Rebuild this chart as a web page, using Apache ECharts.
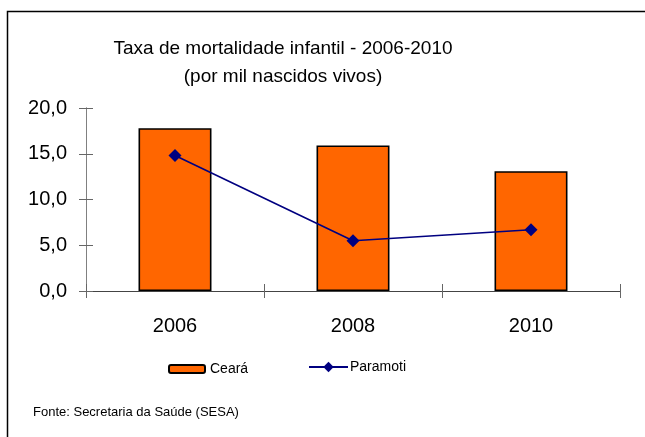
<!DOCTYPE html>
<html>
<head>
<meta charset="utf-8">
<script src="https://cdn.jsdelivr.net/npm/echarts@6/dist/echarts.min.js"></script>
<style>
html,body{margin:0;padding:0;background:#fff;}
#chart{width:645px;height:437px;}
</style>
</head>
<body>
<div id="chart"></div>
<script>
var categories = ['2006', '2008', '2010'];
var cearaValues = [17.8, 15.9, 13.1];
var paramotiValues = [14.8, 5.5, 6.7];
var yTickValues = [0, 5, 10, 15, 20];
var yTickLabels = ['0,0', '5,0', '10,0', '15,0', '20,0'];
var titleLines = ['Taxa de mortalidade infantil - 2006-2010', '(por mil nascidos vivos)'];
var sourceText = 'Fonte: Secretaria da Saúde (SESA)';

var FONT = "'Liberation Sans', Arial, sans-serif";
var chart = echarts.init(document.getElementById('chart'), null, {renderer: 'canvas'});

function yLabel(v) {
  var i = yTickValues.indexOf(v);
  return i >= 0 ? yTickLabels[i] : '';
}

var gridRect = {left: 86, right: 25, top: 108, bottom: 146, containLabel: false};

var option = {
  backgroundColor: '#ffffff',
  animation: false,
  title: {
    text: titleLines.join('\n'),
    left: 283,
    top: 35,
    textAlign: 'center',
    padding: 0,
    textStyle: {fontFamily: FONT, fontSize: 19, fontWeight: 'normal', color: '#000', lineHeight: 28}
  },
  grid: [
    Object.assign({}, gridRect),
    Object.assign({}, gridRect)
  ],
  legend: [
    {
      left: 168,
      top: 362,
      padding: 0,
      itemWidth: 36,
      itemHeight: 8,
      itemGap: 5,
      textStyle: {fontFamily: FONT, fontSize: 14, color: '#000'},
      data: ['Ceará']
    },
    {
      left: 308,
      top: 360,
      padding: 0,
      itemWidth: 39,
      itemHeight: 13,
      textStyle: {fontFamily: FONT, fontSize: 14, color: '#000', padding: [0, 0, 0, -3]},
      data: ['Paramoti']
    }
  ],
  xAxis: [
    {
      type: 'category',
      gridIndex: 0,
      data: categories,
      axisLine: {lineStyle: {color: '#444', width: 1}},
      axisTick: {show: true, length: 7, lineStyle: {color: '#666'}},
      axisLabel: {fontFamily: FONT, fontSize: 20, color: '#000', margin: 25}
    },
    {
      type: 'category',
      gridIndex: 1,
      data: categories,
      axisLine: {show: true, lineStyle: {color: '#444', width: 1}},
      axisTick: {show: true, inside: true, length: 7, lineStyle: {color: '#666'}},
      axisLabel: {show: false}
    }
  ],
  yAxis: [
    {
      type: 'value',
      gridIndex: 0,
      min: 0, max: 20, interval: 5,
      axisLine: {show: true, lineStyle: {color: '#808080', width: 1}},
      axisTick: {show: true, length: 7, lineStyle: {color: '#666'}},
      splitLine: {show: false},
      axisLabel: {fontFamily: FONT, fontSize: 20, color: '#000', margin: 19, formatter: yLabel}
    },
    {
      type: 'value',
      gridIndex: 1,
      min: 0, max: 20, interval: 5,
      axisLine: {show: true, lineStyle: {color: '#808080', width: 1}},
      axisTick: {show: true, inside: true, length: 7, lineStyle: {color: '#666'}},
      splitLine: {show: false},
      axisLabel: {show: false}
    }
  ],
  series: [
    {
      name: 'Ceará',
      type: 'bar',
      xAxisIndex: 0,
      yAxisIndex: 0,
      data: cearaValues,
      barWidth: '41%',
      itemStyle: {color: '#FF6600', borderColor: '#000', borderWidth: 1.6}
    },
    {
      name: 'Paramoti',
      type: 'line',
      xAxisIndex: 0,
      yAxisIndex: 0,
      data: paramotiValues,
      symbol: 'diamond',
      symbolSize: 13,
      z: 5,
      lineStyle: {color: '#000080', width: 1.6},
      itemStyle: {color: '#000080'}
    },
    {
      name: '_ticks',
      type: 'line',
      xAxisIndex: 1,
      yAxisIndex: 1,
      data: paramotiValues,
      showSymbol: false,
      silent: true,
      lineStyle: {opacity: 0},
      itemStyle: {opacity: 0}
    }
  ],
  graphic: [
    {
      type: 'rect',
      shape: {x: 7.5, y: 11.5, width: 720, height: 520},
      style: {fill: 'none', stroke: '#000', lineWidth: 1.5},
      silent: true
    },
    {
      type: 'text',
      x: 33,
      y: 412,
      style: {text: sourceText, font: '13px ' + FONT, fill: '#000', verticalAlign: 'middle', align: 'left'}
    }
  ]
};
chart.setOption(option);
</script>
</body>
</html>
